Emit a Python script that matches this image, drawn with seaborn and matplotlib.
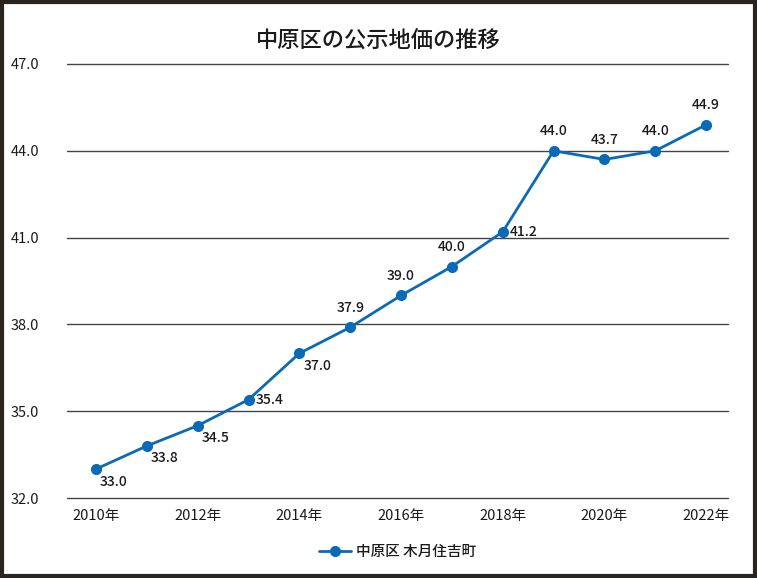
import matplotlib
matplotlib.use("Agg")
import matplotlib.pyplot as plt
import seaborn as sns
import pandas as pd
from matplotlib.patches import Rectangle

years = [2010, 2011, 2012, 2013, 2014, 2015, 2016, 2017, 2018, 2019, 2020, 2021, 2022]
prices = [33.0, 33.8, 34.5, 35.4, 37.0, 37.9, 39.0, 40.0, 41.2, 44.0, 43.7, 44.0, 44.9]
# where each value label sits relative to its point
label_pos = ["rb", "rb", "rb", "r", "rb", "a", "a", "a", "r", "a", "a", "a", "a"]
series_name = "中原区 木月住吉町"
title = "中原区の公示地価の推移"
yticks = [32.0, 35.0, 38.0, 41.0, 44.0, 47.0]
xticks = [2010, 2012, 2014, 2016, 2018, 2020, 2022]

sns.set_theme(style="white")
plt.rcParams['font.family'] = ['Noto Sans CJK JP', 'DejaVu Sans']

df = pd.DataFrame({"year": years, "price": prices, "series": series_name})

fig = plt.figure(figsize=(7.57, 5.78), dpi=100)
ax = fig.add_axes([67 / 757, 1 - 498 / 578, (728 - 67) / 757, (498 - 64) / 578])

blue = "#0a6ab8"
sns.lineplot(data=df, x="year", y="price", hue="series", palette=[blue],
             marker="o", markersize=8, markeredgewidth=0, linewidth=2, ax=ax)

offsets = {"rb": (3, -9, "left", "center"), "r": (5, 0, "left", "center"),
           "a": (0, 9, "center", "bottom")}
for x, y, p in zip(years, prices, label_pos):
    dx, dy, ha, va = offsets[p]
    ax.annotate(f"{y:.1f}", (x, y), xytext=(dx, dy), textcoords="offset points",
                ha=ha, va=va, fontsize=10, color="#1a1a1a", fontweight="medium")

ax.set_xlim(2009.43, 2022.43)
ax.set_ylim(32, 47)
ax.set_yticks(yticks)
ax.set_yticklabels([f"{v:.1f}" for v in yticks], fontsize=10.5, color="#1a1a1a")
ax.set_xticks(xticks)
ax.set_xticklabels([f"{v}年" for v in xticks], fontsize=10.5, color="#1a1a1a")
ax.tick_params(axis="both", length=0, pad=8)
ax.yaxis.set_tick_params(pad=20)
for v in yticks:
    ax.axhline(v, color="#444444", linewidth=1, zorder=0, clip_on=False)
for s in ax.spines.values():
    s.set_visible(False)
ax.set_xlabel("")
ax.set_ylabel("")

fig.text(0.5, 1 - 40 / 578, title, ha="center", va="center", fontsize=16,
         color="#1a1a1a", fontweight="medium")

leg = ax.legend(loc="center", bbox_to_anchor=(0.5, -0.125), frameon=False,
                fontsize=10.5, handlelength=2.2, handletextpad=0.3)
for t in leg.get_texts():
    t.set_color("#1a1a1a")
    t.set_fontweight("medium")

fig.patches.append(Rectangle((0.002, 0.003), 0.996, 0.994, transform=fig.transFigure,
                             fill=False, edgecolor="#2a2420", linewidth=3))

fig.savefig("out.png", dpi=100)
